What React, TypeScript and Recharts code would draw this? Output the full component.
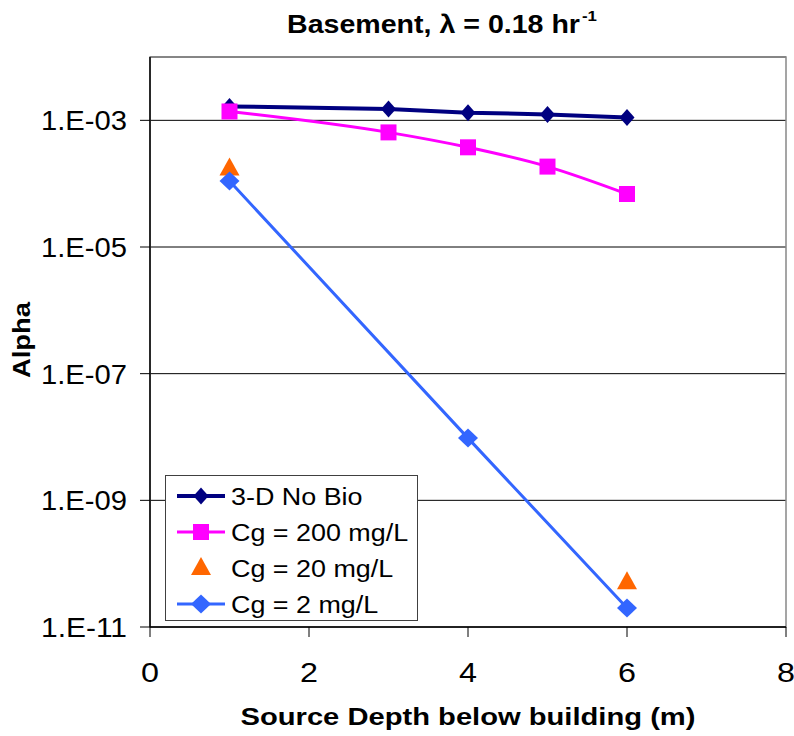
import React from 'react';
import { ComposedChart, Line, XAxis, YAxis, CartesianGrid, ReferenceArea, Legend } from 'recharts';

if (typeof document !== 'undefined') {
  document.body.style.margin = '0';
}

// ---- data ----
const noBioDepth = [1, 3, 4, 5, 6];
const noBioAlpha = [1.66e-3, 1.51e-3, 1.32e-3, 1.24e-3, 1.11e-3];

const cg200Depth = [1, 3, 4, 5, 6];
const cg200Alpha = [1.38e-3, 6.45e-4, 3.75e-4, 1.86e-4, 6.87e-5];

const cg20Depth = [1, 6];
const cg20Alpha = [1.73e-4, 5.1e-11];

const cg2Depth = [1, 4, 6];
const cg2Alpha = [1.1e-4, 9.6e-9, 2.0e-11];

const xTicks = [0, 2, 4, 6, 8];
const yTicks = [1e-11, 1e-9, 1e-7, 1e-5, 1e-3];
const seriesNames = ['3-D No Bio', 'Cg = 200 mg/L', 'Cg = 20 mg/L', 'Cg = 2 mg/L'];

const chartTitle = 'Basement, \u03bb = 0.18 hr';
const chartTitleSup = '-1';
const xTitle = 'Source Depth below building (m)';
const yTitle = 'Alpha';

const toPoints = (xs: number[], ys: number[]) => xs.map((x, i) => ({ x, y: ys[i] }));

const FONT = '"Liberation Sans", Arial, Helvetica, sans-serif';

type Shape = 'diamondSmall' | 'square' | 'triangle' | 'diamond';

const shapePath = (shape: Shape, cx: number, cy: number) => {
  switch (shape) {
    case 'diamondSmall':
      return `M${cx},${cy - 8.5}L${cx + 7.5},${cy}L${cx},${cy + 8.5}L${cx - 7.5},${cy}Z`;
    case 'square':
      return `M${cx - 8},${cy - 8}h16v16h-16Z`;
    case 'triangle':
      return `M${cx},${cy - 11}L${cx + 10},${cy + 7}L${cx - 10},${cy + 7}Z`;
    case 'diamond':
    default:
      return `M${cx},${cy - 9.5}L${cx + 10},${cy}L${cx},${cy + 9.5}L${cx - 10},${cy}Z`;
  }
};

const series = [
  { id: 'noBio', name: seriesNames[0], color: '#000080', shape: 'diamondSmall' as Shape, line: true, type: 'linear', width: 4, data: toPoints(noBioDepth, noBioAlpha) },
  { id: 'cg200', name: seriesNames[1], color: '#FF00FF', shape: 'square' as Shape, line: true, type: 'monotone', width: 3, data: toPoints(cg200Depth, cg200Alpha) },
  { id: 'cg20', name: seriesNames[2], color: '#FF6600', shape: 'triangle' as Shape, line: false, type: 'linear', width: 0, data: toPoints(cg20Depth, cg20Alpha) },
  { id: 'cg2', name: seriesNames[3], color: '#3366FF', shape: 'diamond' as Shape, line: true, type: 'linear', width: 3, data: toPoints(cg2Depth, cg2Alpha) },
];

const makeDot = (shape: Shape, color: string, id: string) => (props: any) => {
  const { cx, cy, index } = props;
  if (cx == null || cy == null || isNaN(cx) || isNaN(cy)) return <g key={`${id}-${index}`} />;
  return <path key={`${id}-${index}`} d={shapePath(shape, cx, cy)} fill={color} stroke="none" />;
};

const fmtExp = (v: number) => {
  const e = Math.round(Math.log10(v));
  const abs = Math.abs(e);
  return `1.E${e < 0 ? '-' : '+'}${abs < 10 ? '0' + abs : abs}`;
};

const YTick = (props: any) => {
  const { x, y, payload } = props;
  return (
    <text x={x - 11} y={y + 10} textAnchor="end" fontSize={27} fontFamily={FONT} fill="#000"
      textLength={86} lengthAdjust="spacingAndGlyphs">
      {fmtExp(payload.value)}
    </text>
  );
};

const XTick = (props: any) => {
  const { x, y, payload } = props;
  return (
    <text x={x} y={y + 43} textAnchor="middle" fontSize={27} fontFamily={FONT} fill="#000"
      textLength={18} lengthAdjust="spacingAndGlyphs">
      {String(payload.value)}
    </text>
  );
};

const LegendBox = () => (
  <svg width={253} height={146} style={{ display: 'block' }}>
    <rect x={0.5} y={0.5} width={252} height={145} fill="#fff" stroke="#404040" strokeWidth={1} />
    {series.map((s, i) => {
      const cy = 21 + i * 36;
      return (
        <g key={s.id}>
          {s.line && <line x1={12} x2={60} y1={cy} y2={cy} stroke={s.color} strokeWidth={s.width} />}
          <path d={shapePath(s.shape, 36, cy)} fill={s.color} />
          <text transform={`translate(66,${cy + 8.5}) scale(1.17,1)`} fontSize={23} fontFamily={FONT} fill="#000">
            {s.name}
          </text>
        </g>
      );
    })}
  </svg>
);

export default function App() {
  return (
    <div style={{ position: 'relative', width: 794, height: 736, background: '#fff' }}>
      <ComposedChart width={794} height={736} margin={{ top: 57, right: 8, left: 0, bottom: 49 }}>
        <ReferenceArea x1={0} x2={8} y1={1e-11} y2={1e-2} fill="none" stroke="#888" strokeWidth={1.5} ifOverflow="visible" />
        <CartesianGrid vertical={false} stroke="#000" strokeWidth={1} fill="none" />
        <XAxis
          type="number"
          dataKey="x"
          domain={[0, 8]}
          ticks={xTicks}
          allowDuplicatedCategory={false}
          height={60}
          tickSize={10}
          axisLine={{ stroke: '#000', strokeWidth: 1.5 }}
          tickLine={{ stroke: '#000', strokeWidth: 1 }}
          tick={<XTick />}
          interval={0}
          label={{
            content: (p: any) => {
              const vb = p.viewBox;
              return (
                <text x={vb.x + vb.width / 2} y={vb.y + 98} textAnchor="middle" fontSize={23.5} fontWeight="bold"
                  fontFamily={FONT} fill="#000" textLength={455} lengthAdjust="spacingAndGlyphs">
                  {xTitle}
                </text>
              );
            },
          }}
        />
        <YAxis
          type="number"
          scale="log"
          domain={[1e-11, 1e-2]}
          allowDataOverflow
          ticks={yTicks}
          width={150}
          tickSize={10}
          axisLine={{ stroke: '#000', strokeWidth: 1.5 }}
          tickLine={{ stroke: '#000', strokeWidth: 1 }}
          tick={<YTick />}
          interval={0}
          label={{
            content: (p: any) => {
              const vb = p.viewBox;
              const cx = 30;
              const cy = vb.y + vb.height / 2 - 2;
              return (
                <text x={cx} y={cy} transform={`rotate(-90, ${cx}, ${cy})`} textAnchor="middle" fontSize={23}
                  fontWeight="bold" fontFamily={FONT} fill="#000" textLength={76} lengthAdjust="spacingAndGlyphs">
                  {yTitle}
                </text>
              );
            },
          }}
        />
        {series.map((s) => (
          <Line
            key={s.id}
            data={s.data}
            dataKey="y"
            name={s.name}
            type={s.type as any}
            stroke={s.line ? s.color : 'none'}
            strokeWidth={s.width}
            dot={makeDot(s.shape, s.color, s.id)}
            activeDot={false}
            isAnimationActive={false}
            legendType="none"
          />
        ))}
        <Legend
          layout="vertical"
          align="center"
          verticalAlign="middle"
          wrapperStyle={{ left: 165, top: 475, width: 253, height: 146 }}
          content={() => <LegendBox />}
        />
      </ComposedChart>
      <svg width={794} height={50} style={{ position: 'absolute', left: 0, top: 0, pointerEvents: 'none' }}>
        <text x={287} y={33} fontSize={25} fontWeight="bold" fontFamily={FONT} fill="#000"
          textLength={293} lengthAdjust="spacingAndGlyphs">
          {chartTitle}
        </text>
        <text x={582} y={21} fontSize={15} fontWeight="bold" fontFamily={FONT} fill="#000"
          textLength={15} lengthAdjust="spacingAndGlyphs">
          {chartTitleSup}
        </text>
      </svg>
    </div>
  );
}
